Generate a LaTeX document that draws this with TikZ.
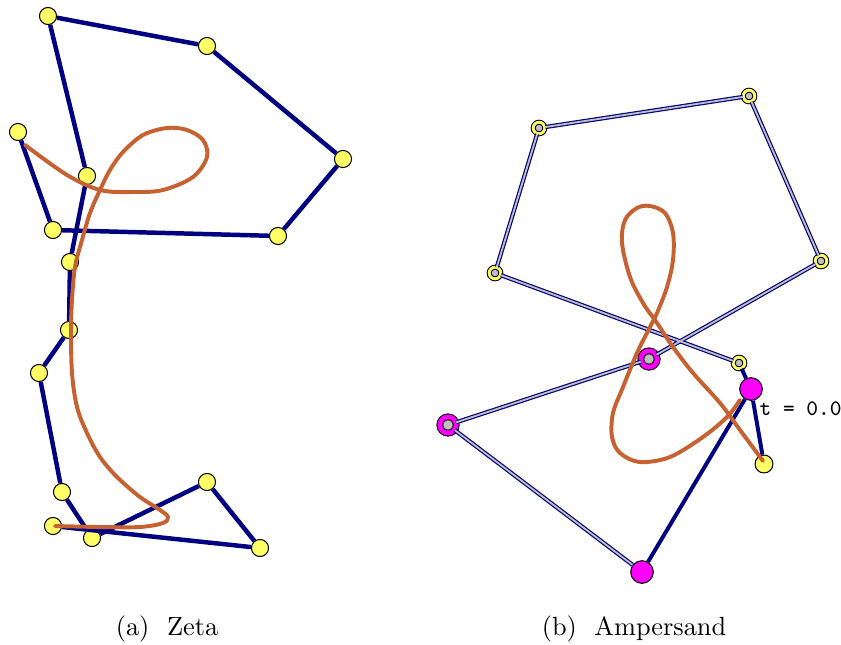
\documentclass[tikz,border=0pt]{standalone}
\usepackage{tikz}
\usetikzlibrary{positioning}

\definecolor{navyline}{RGB}{0,0,128}
\definecolor{curveorange}{RGB}{198,98,50}
\definecolor{ptyellow}{RGB}{255,255,102}
\definecolor{ptmagenta}{RGB}{255,0,255}
\definecolor{ringgray}{RGB}{192,192,192}

\begin{document}
\begin{tikzpicture}
    [
        x=0.38pt, y=-0.38pt,
        ctrl/.style={circle, draw=black, fill=ptyellow, line width=0.4pt, minimum size=6.5pt, inner sep=0pt},
        ring/.style={circle, draw=black, double=ptyellow, double distance=1.1pt, line width=0.4pt, fill=ringgray, minimum size=4.4pt, inner sep=0pt},
        mring/.style={circle, draw=black, double=ptmagenta, double distance=1.8pt, line width=0.4pt, fill=ringgray, minimum size=6.2pt, inner sep=0pt},
        mdot/.style={circle, draw=black, fill=ptmagenta, line width=0.4pt, minimum size=8.6pt, inner sep=0pt},
        poly/.style={draw=navyline, line width=1.7pt},
        dpoly/.style={draw=navyline, line width=0.45pt, double=ringgray, double distance=0.7pt},
        spoly/.style={draw=navyline, line width=1.5pt},
        curve/.style={draw=curveorange, line width=1.5pt, line cap=round, line join=round}
    ]
        \useasboundingbox (0,0) rectangle (841,644);
        % =========================================================================
        % NODES
        % =========================================================================
        % --- Zeta ---
        \node [ctrl] (z1) at (18,132) {};
        \node [ctrl] (z2) at (53,230) {};
        \node [ctrl] (z3) at (278,236) {};
        \node [ctrl] (z4) at (343,159) {};
        \node [ctrl] (z5) at (207,46) {};
        \node [ctrl] (z6) at (48,16) {};
        \node [ctrl] (z7) at (87,176) {};
        \node [ctrl] (z8) at (70,262) {};
        \node [ctrl] (z9) at (69,330) {};
        \node [ctrl] (z10) at (39,373) {};
        \node [ctrl] (z11) at (62,492) {};
        \node [ctrl] (z12) at (92,538) {};
        \node [ctrl] (z13) at (207,482) {};
        \node [ctrl] (z14) at (260,548) {};
        \node [ctrl] (z15) at (53,526) {};

        % --- Ampersand ---
        \node [ring] (a1) at (495,273) {};
        \node [ring] (a2) at (539,128) {};
        \node [ring] (a3) at (749,96) {};
        \node [ring] (a4) at (821,261) {};
        \node [mring] (a5) at (649,359) {};
        \node [mring] (a6) at (448,425) {};
        \node [mdot] (a7) at (642,572) {};
        \node [mdot] (a8) at (751,389) {};
        \node [ctrl, minimum size=6.8pt] (a9) at (764,464) {};
        \node [ring] (a10) at (739,363) {};
        \node [anchor=west, inner sep=0pt, font=\fontsize{8.4}{10}\selectfont\ttfamily] (tlabel) at (759,409) {t = 0.0};

        % --- Captions ---
        \node [anchor=base] (capa) at (167,635) {(a)~~Zeta};
        \node [anchor=base] (capb) at (634,635) {(b)~~Ampersand};

        % =========================================================================
        % PATHS
        % =========================================================================
        % --- Zeta polygon ---
        \draw [poly] (z1) -- (z2) -- (z3) -- (z4) -- (z5) -- (z6) -- (z7) -- (z8)
            -- (z9) -- (z10) -- (z11) -- (z12) -- (z13) -- (z14) -- (z15);

        % --- Ampersand polygon ---
        \draw [dpoly] (a10) -- (a1) -- (a2) -- (a3) -- (a4) -- (a5) -- (a6) -- (a7);
        \draw [spoly] (a7) -- (a8) -- (a9);
        \draw [spoly] (a10) -- (a8);

        % --- Curves ---
        \draw [curve] plot [smooth, tension=0.55] coordinates {
            (25,145) (67,175) (100,190) (133,192) (163,190) (193,177) (207,157)
            (203,140) (187,130) (167,128) (143,135) (123,152) (110,170) (100,190)
            (90,213) (82,240) (75,267) (72,300) (71,330) (72,373) (77,407)
            (87,433) (100,457) (117,477) (140,497) (160,510) (168,517) (163,523)
            (140,527) (100,527) (55,526)};
        \draw [curve] plot [smooth, tension=0.55] coordinates {
            (763,461) (740,430) (720,403) (693,373) (673,347) (657,323)
            (643,303) (630,277) (622,243) (625,220) (637,208) (650,206)
            (665,213) (673,233) (673,260) (667,287) (657,313) (650,327)
            (637,353) (623,387) (613,413) (612,437) (620,453) (640,462)
            (670,457) (703,437) (727,417) (740,400)};

    \end{tikzpicture}
\end{document}
